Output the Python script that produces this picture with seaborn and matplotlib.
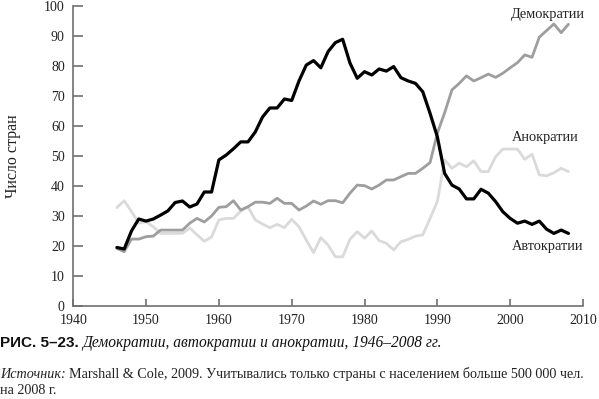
import numpy as np
import pandas as pd
import matplotlib
matplotlib.use('Agg')
import matplotlib.pyplot as plt
import seaborn as sns

years = list(range(1946, 2009))

autocracies = [19.5, 19, 25, 29, 28.3, 29, 30.3, 31.7, 34.5, 35, 33, 34, 38, 38,
               48.7, 50.3, 52.4, 54.7, 54.7, 58, 63, 66, 66, 69, 68.5, 75,
               80.3, 81.8, 79.4, 84.8, 87.8, 88.9, 81, 75.9, 78.1, 77, 79, 78.3, 79.8,
               76.1, 75, 74.2, 71.4, 64.2, 56.4, 44.2, 40.3, 39, 35.7, 35.7, 38.9,
               37.6, 34.8, 31.4, 29.2, 27.6, 28.3, 27.2, 28.3, 25.6, 24.2, 25.3, 24.2]

democracies = [19.2, 18.1, 22.3, 22.3, 23.1, 23.3, 25.3, 25.3, 25.3, 25.3, 27.6, 29.2,
               28, 30, 32.9, 33.1, 35.1, 32, 33.1, 34.6, 34.6, 34.2, 35.9, 34.2, 34.2,
               32, 33.3, 35, 33.9, 35.1, 35.1, 34.4, 37.6, 40.3, 40.1, 39, 40.3, 42,
               42, 43.1, 44.2, 44.2, 45.9, 47.8, 57.6, 64.4, 72, 74.2, 76.7, 75, 76.1,
               77.3, 76.2, 77.6, 79.4, 81.1, 83.7, 82.9, 89.6, 91.8, 94, 91.1, 93.9]

anocracies = [32.8, 35.1, 31.5, 27.6, 28.1, 26.4, 24.2, 24.2, 24.2, 24.2, 26, 23.7,
              21.6, 23, 28.7, 29.2, 29.2, 31.6, 33, 28.7, 27.3, 26.1, 27.2, 26.1,
              28.9, 26.4, 22, 17.8, 22.8, 20.3, 16.4, 16.4, 22.2, 24.8, 22.6, 25,
              21.8, 20.9, 18.7, 21.4, 22.2, 23.3, 23.7, 29.2, 34.8, 48.7, 45.9, 47.6,
              46.4, 48.4, 44.8, 44.8, 49.8, 52.3, 52.3, 52.3, 48.9, 50.6, 43.7, 43.4,
              44.4, 45.9, 44.8]

series_names = ['Автократии', 'Демократии', 'Анократии']
series_colors = ['#000000', '#9e9e9e', '#dadada']
x_ticks = [1940, 1950, 1960, 1970, 1980, 1990, 2000, 2010]
y_ticks = [0, 10, 20, 30, 40, 50, 60, 70, 80, 90, 100]

df = pd.DataFrame({
    'year': years * 3,
    'count': anocracies + democracies + autocracies,
    'type': ['Анократии'] * len(years) + ['Демократии'] * len(years) + ['Автократии'] * len(years),
})

sns.set_theme(style='white')
plt.rcParams['font.family'] = ['Liberation Serif', 'DejaVu Serif']

fig = plt.figure(figsize=(5.99, 3.99), dpi=100)
ax = fig.add_axes([0.1222, 0.2331, 0.8511, 0.7519])

palette = dict(zip(series_names, series_colors))
sizes = {'Автократии': 2.3, 'Демократии': 2.0, 'Анократии': 2.0}
for name in ['Анократии', 'Демократии', 'Автократии']:
    sub = df[df['type'] == name]
    sns.lineplot(data=sub, x='year', y='count', color=palette[name],
                 linewidth=sizes[name], ax=ax, legend=False)

ax.set_xlim(1940, 2010)
ax.set_ylim(0, 100)
ax.set_xticks(x_ticks)
ax.set_yticks(y_ticks)
ax.set_xlabel('')
ax.set_ylabel('Число стран', fontsize=11.5, color='#222222', labelpad=17)
for s in ['top', 'right']:
    ax.spines[s].set_visible(False)
for s in ['left', 'bottom']:
    ax.spines[s].set_color('#707070')
    ax.spines[s].set_linewidth(1.2)
ax.tick_params(axis='y', direction='in', length=7, width=1.2, color='#707070',
               labelsize=10, labelcolor='#222222', pad=6, left=True)
ax.tick_params(axis='x', direction='in', length=5, width=1.2, color='#707070',
               labelsize=10, labelcolor='#222222', pad=6, bottom=True)
ax.grid(False)

ax.text(2005.2, 97.0, 'Демократии', fontsize=10.4, color='#222222', ha='center', va='center')
ax.text(2004.8, 56.3, 'Анократии', fontsize=10.4, color='#222222', ha='center', va='center')
ax.text(2005.2, 19.8, 'Автократии', fontsize=10.4, color='#222222', ha='center', va='center')

# caption
fig.canvas.draw()
r = fig.canvas.get_renderer()
t1 = fig.text(0.0, 1 - 347 / 399, 'РИС. 5–23.', fontsize=11, fontweight='bold',
              family=['Liberation Sans', 'DejaVu Sans'], color='#111111', va='baseline')
bb = t1.get_window_extent(r)
fig.text(bb.x1 / fig.bbox.width + 0.006, 1 - 347 / 399,
         'Демократии, автократии и анократии, 1946–2008 гг.',
         fontsize=11.2, style='italic', color='#111111', va='baseline')

t2 = fig.text(0.0, 1 - 378 / 399, 'Источник:', fontsize=10.2, style='italic',
              color='#222222', va='baseline')
bb2 = t2.get_window_extent(r)
fig.text(bb2.x1 / fig.bbox.width + 0.006, 1 - 378 / 399,
         'Marshall & Cole, 2009. Учитывались только страны с населением больше 500 000 чел.',
         fontsize=10.2, color='#222222', va='baseline')
fig.text(0.0, 1 - 394 / 399, 'на 2008 г.', fontsize=10.2, color='#222222', va='baseline')

fig.savefig('out.png', dpi=100)
